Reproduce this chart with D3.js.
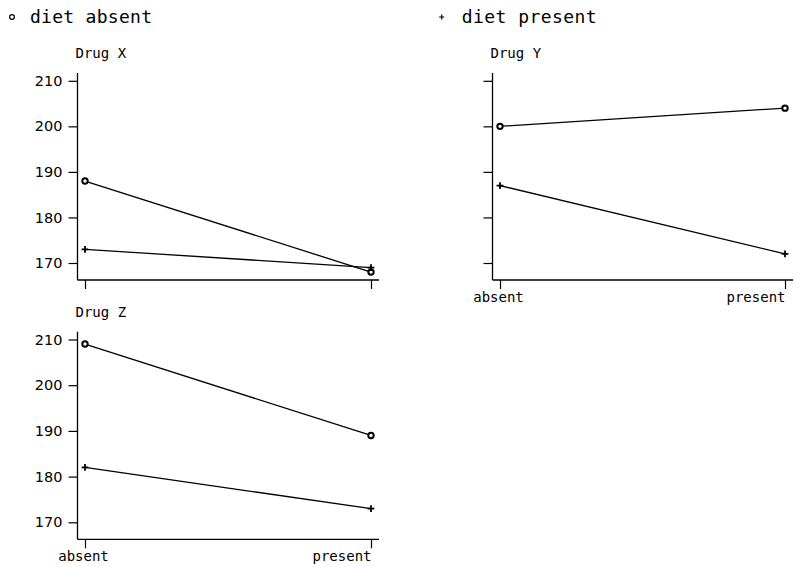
<!DOCTYPE html>
<html><head><meta charset="utf-8">
<script src="https://cdn.jsdelivr.net/npm/d3@7"></script>
<style>body{margin:0;background:#fff}svg{display:block}</style>
</head><body>
<script>
const categories = ["absent", "present"];
const drugs = ["Drug X", "Drug Y", "Drug Z"];
const dietAbsent = [[188, 168], [200, 204], [209, 189]];
const dietPresent = [[173, 169], [187, 172], [182, 173]];
const yTicks = [170, 180, 190, 200, 210];
const legendLabels = ["diet absent", "diet present"];

const W = 794, H = 567;
const svg = d3.select("body").append("svg").attr("width", W).attr("height", H);
const mono = "'DejaVu Sans Mono', monospace";

// layout of the three panels
const panels = [
  {left: 77.5, right: 379, top: 73, bottom: 280, yLabels: true, xLabels: false},
  {left: 492.5, right: 793, top: 73, bottom: 280, yLabels: false, xLabels: true},
  {left: 77.5, right: 379, top: 331.7, bottom: 539.3, yLabels: true, xLabels: true}
];

function plus(g, x, y, a, sw) {
  g.append("path").attr("d", `M${x - a},${y}H${x + a}M${x},${y - a}V${y + a}`)
    .attr("stroke", "#000").attr("stroke-width", sw).attr("fill", "none");
}

panels.forEach((p, i) => {
  const g = svg.append("g");
  const x = d3.scalePoint().domain(categories).range([p.left + 7.5, p.right - 8]);
  const y = d3.scaleLinear().domain([170, 210]).range([p.bottom - 17, p.top + 7.8]);

  // y axis
  const ya = d3.axisLeft(y).tickValues(yTicks).tickSize(9).tickPadding(6)
    .tickFormat(p.yLabels ? d3.format("d") : () => "");
  const yg = g.append("g").attr("transform", `translate(${p.left},0)`).call(ya);
  yg.select(".domain").remove();
  yg.selectAll("line").attr("stroke", "#000").attr("stroke-width", 1.2);
  yg.selectAll("text").attr("font-family", "'DejaVu Sans', sans-serif").attr("font-size", 14.5).attr("fill", "#000");
  g.append("line").attr("x1", p.left).attr("x2", p.left).attr("y1", p.top).attr("y2", p.bottom)
    .attr("stroke", "#000").attr("stroke-width", 1.3);

  // x axis
  const xa = d3.axisBottom(x).tickSize(9).tickPadding(0).tickFormat(p.xLabels ? d => d : () => "");
  const xg = g.append("g").attr("transform", `translate(0,${p.bottom})`).call(xa);
  xg.select(".domain").remove();
  xg.selectAll("line").attr("stroke", "#000").attr("stroke-width", 1.2);
  xg.selectAll("text").attr("font-family", mono).attr("font-size", 14).attr("fill", "#000")
    .attr("dy", "0.9em")
    .attr("text-anchor", (d, j) => j === categories.length - 1 ? "end" : "middle")
    .attr("dx", (d, j) => j === categories.length - 1 ? 0 : -2);
  g.append("line").attr("x1", p.left).attr("x2", p.right).attr("y1", p.bottom).attr("y2", p.bottom)
    .attr("stroke", "#000").attr("stroke-width", 1.3);

  // title
  g.append("text").attr("x", p.left - 2).attr("y", p.top - 14.7).text(drugs[i])
    .attr("font-family", mono).attr("font-size", 14).attr("fill", "#000");

  const line = d3.line().x((d, j) => x(categories[j])).y(d => y(d));
  [dietAbsent[i], dietPresent[i]].forEach(vals => {
    g.append("path").datum(vals).attr("d", line).attr("fill", "none")
      .attr("stroke", "#000").attr("stroke-width", 1.3);
  });
  dietAbsent[i].forEach((v, j) => {
    g.append("circle").attr("cx", x(categories[j])).attr("cy", y(v)).attr("r", 2.7)
      .attr("fill", "#fff").attr("stroke", "#000").attr("stroke-width", 2);
  });
  dietPresent[i].forEach((v, j) => plus(g, x(categories[j]), y(v), 3.4, 1.8));
});

// legend
const lg = svg.append("g");
lg.append("circle").attr("cx", 12).attr("cy", 17).attr("r", 2.4).attr("fill", "none")
  .attr("stroke", "#000").attr("stroke-width", 1.2);
plus(lg, 441.7, 17, 2.6, 1.2);
lg.append("text").attr("x", 30).attr("y", 22.7).text(legendLabels[0])
  .attr("font-family", mono).attr("font-size", 18).attr("fill", "#000")
  .attr("textLength", 122).attr("lengthAdjust", "spacing");
lg.append("text").attr("x", 461.7).attr("y", 22.7).text(legendLabels[1])
  .attr("font-family", mono).attr("font-size", 18).attr("fill", "#000")
  .attr("textLength", 135).attr("lengthAdjust", "spacing");
</script>
</body></html>
